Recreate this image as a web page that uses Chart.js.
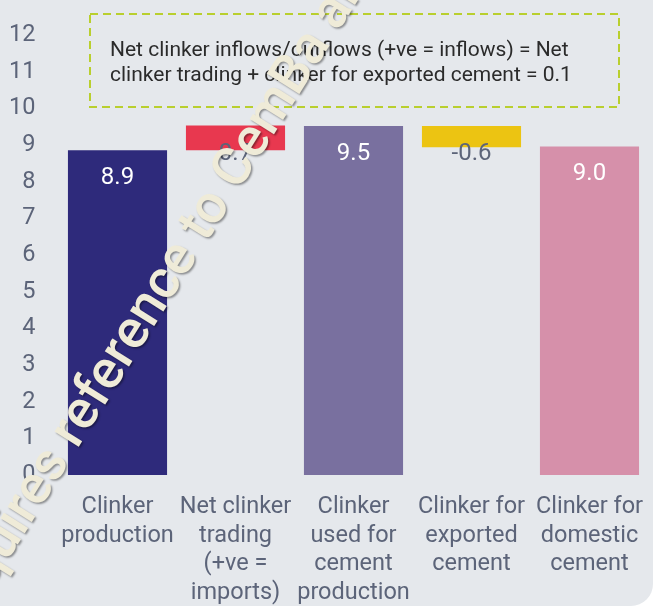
<!DOCTYPE html>
<html lang="en">
<head>
  <meta charset="UTF-8">
  <title>Clinker balance</title>
  <script src="https://cdn.jsdelivr.net/npm/chart.js"></script>
  <style>
    body { margin: 0; background: #fff; }
    #wrap { width: 653px; height: 606px; background: #e5e8ec; border-bottom-right-radius: 22px; overflow: hidden; }
  </style>
</head>
<body>
  <div id="wrap"><canvas id="chart"></canvas></div>

  <script>
    // Kategorier och värden (Mt klinker)
    const categories = [
      ["Clinker", "production"],
      ["Net clinker", "trading", "(+ve =", "imports)"],
      ["Clinker", "used for", "cement", "production"],
      ["Clinker for", "exported", "cement"],
      ["Clinker for", "domestic", "cement"]
    ];
    const values = [8.86, 0.67, 9.52, -0.58, 8.96];
    const isTotal = [true, false, true, false, true];
    const barColors = ["#2e2a7b", "#e8384f", "#79709f", "#ecc412", "#d690aa"];
    const yTicks = [0, 1, 2, 3, 4, 5, 6, 7, 8, 9, 10, 11, 12];
    const noteLines = [
      "Net clinker inflows/outflows (+ve = inflows) = Net",
      "clinker trading + clinker for exported cement = 0.1"
    ];
    const wmPrefix = "Use requires ";
    const wmMain = "reference";
    const wmSuffix = " to CemBa analysis";

    // Vattenfall: totaler från 0, delta från löpande summa
    let running = 0;
    const ranges = values.map((v, i) => {
      if (isTotal[i]) { running = v; return [0, v]; }
      const r = [running, running + v];
      running += v;
      return r;
    });

    const grey = "#5c6479";

    const labelPlugin = {
      id: "labels",
      afterDatasetsDraw(chart) {
        const ctx = chart.ctx;
        const meta = chart.getDatasetMeta(0);
        const y = chart.scales.y;
        ctx.save();
        ctx.font = "24px Roboto";
        ctx.textAlign = "center";
        ctx.textBaseline = "middle";
        meta.data.forEach((bar, i) => {
          const top = y.getPixelForValue(Math.max(ranges[i][0], ranges[i][1]));
          ctx.fillStyle = isTotal[i] ? "#ffffff" : grey;
          ctx.fillText(values[i].toFixed(1), bar.x, top + 28);
        });
        ctx.restore();
      }
    };

    const notePlugin = {
      id: "note",
      afterDraw(chart) {
        const ctx = chart.ctx;
        ctx.save();
        ctx.strokeStyle = "#b9cf2e";
        ctx.lineWidth = 2;
        ctx.setLineDash([8, 5]);
        ctx.strokeRect(90, 14, 529, 93);
        ctx.setLineDash([]);
        ctx.fillStyle = "#2b2b2b";
        ctx.font = "21px Roboto";
        ctx.textBaseline = "alphabetic";
        ctx.textAlign = "left";
        ctx.fillText(noteLines[0], 110, 56);
        ctx.fillText(noteLines[1], 110, 81);

        // vattenstämpel
        ctx.translate(123, 343);
        ctx.rotate(-58 * Math.PI / 180);
        ctx.font = "500 54px Roboto";
        ctx.textAlign = "left";
        ctx.textBaseline = "middle";
        const full = wmPrefix + wmMain + wmSuffix;
        const start = -(ctx.measureText(wmPrefix).width + ctx.measureText(wmMain).width / 2);
        ctx.shadowColor = "rgba(0,0,0,0.4)";
        ctx.shadowOffsetX = 1.5;
        ctx.shadowOffsetY = 1.5;
        ctx.shadowBlur = 2;
        ctx.fillStyle = "#efebd8";
        ctx.fillText(full, start, 4);
        ctx.restore();
      }
    };

    new Chart(document.getElementById("chart"), {
      type: "bar",
      data: {
        labels: categories,
        datasets: [{
          data: ranges,
          backgroundColor: barColors,
          borderSkipped: false,
          categoryPercentage: 1,
          barPercentage: 0.84
        }]
      },
      options: {
        responsive: true,
        maintainAspectRatio: false,
        animation: false,
        layout: { padding: { top: 35, right: 4.5, left: 0, bottom: 0 } },
        plugins: { legend: { display: false }, tooltip: { enabled: false } },
        scales: {
          x: {
            grid: { display: false, drawTicks: false },
            border: { display: false },
            ticks: {
              color: grey,
              font: { family: "Roboto", size: 23.5, lineHeight: 1.217 },
              padding: 18,
              maxRotation: 0,
              autoSkip: false
            },
            afterFit(scale) {
              scale.height = 131;
              scale.paddingLeft = 0;
              scale.paddingRight = 0;
            }
          },
          y: {
            min: 0,
            max: 12,
            afterBuildTicks(scale) { scale.ticks = yTicks.map(v => ({ value: v })); },
            grid: { display: false, drawTicks: false },
            border: { display: false },
            ticks: {
              color: grey,
              font: { family: "Roboto", size: 23.5 },
              padding: 23
            },
            afterFit(scale) {
              scale.width = 58.5;
              scale.paddingTop = 0;
              scale.paddingBottom = 0;
            }
          }
        }
      },
      plugins: [labelPlugin, notePlugin]
    });
  </script>
</body>
</html>
